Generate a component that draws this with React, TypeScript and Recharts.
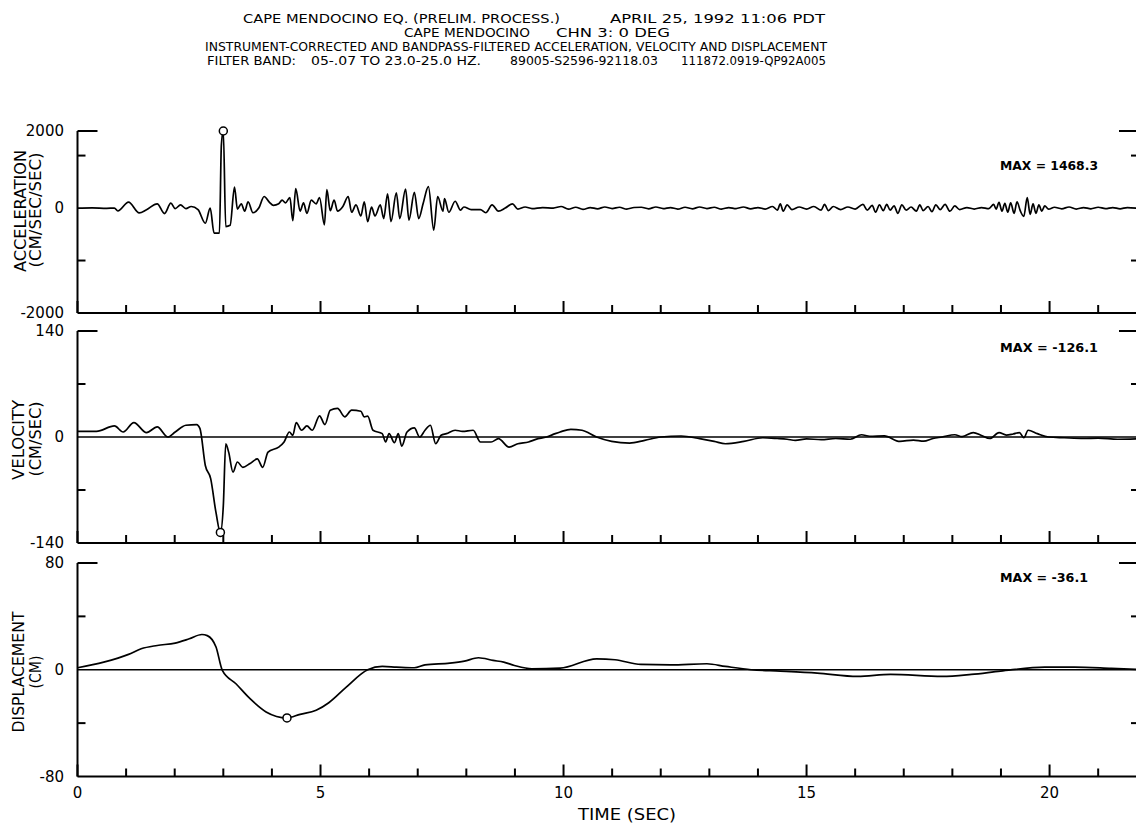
import React from 'react';
import { LineChart, Line, XAxis, YAxis, ReferenceLine, ReferenceDot } from 'recharts';

// time (sec), acceleration (cm/sec/sec)
const accelSamples: [number, number][] = [
  [0, 0], [0.3, 5], [0.6, -5], [0.76, 0], [0.83, -56], [1.05, 112], [1.27, -93], [1.42, -31],
  [1.64, 80], [1.79, -105], [1.92, 93], [2.01, -12], [2.12, 60], [2.23, -12], [2.34, 30], [2.48, -30],
  [2.63, -290], [2.73, 0], [2.81, -477], [2.92, -477], [2.96, 1200], [3.0, 1468.3], [3.05, -353],
  [3.14, -330], [3.23, 400], [3.29, -20], [3.37, 80], [3.44, -60], [3.51, 120], [3.61, -90], [3.73, 0],
  [3.84, 220], [3.95, 110], [4.03, 50], [4.14, 80], [4.21, 150], [4.28, 100], [4.37, 200], [4.43, -240],
  [4.49, 370], [4.58, -60], [4.65, 100], [4.72, -100], [4.81, 150], [4.91, 80], [4.98, 200], [5.08, -320],
  [5.13, 350], [5.2, -50], [5.28, 150], [5.35, -60], [5.46, 30], [5.57, 220], [5.64, -80], [5.73, 60],
  [5.83, -150], [5.9, 120], [5.97, -260], [6.05, 20], [6.12, -150], [6.23, 60], [6.3, -200], [6.38, 270],
  [6.45, -260], [6.56, 290], [6.63, -200], [6.75, 360], [6.82, -230], [6.93, 300], [7.02, -200], [7.11, 80],
  [7.22, 410], [7.33, -420], [7.41, 220], [7.52, -60], [7.55, 180], [7.64, -80], [7.77, 130], [7.88, -40],
  [7.95, 20], [8.1, -30], [8.29, -30], [8.4, -90], [8.53, 60], [8.66, -60], [8.8, 0], [8.95, 80],
  [9.06, -20], [9.21, 20], [9.35, -10], [9.57, 10], [9.79, 0], [9.95, 30], [10.1, -20], [10.25, 15],
  [10.4, -25], [10.55, 10], [10.7, -15], [10.85, 20], [11.0, -10], [11.15, 15], [11.3, -20], [11.45, 10],
  [11.6, 15], [11.75, -15], [11.9, 20], [12.05, -10], [12.2, 10], [12.35, -20], [12.5, 15], [12.65, -15],
  [12.8, 20], [12.95, -10], [13.1, 15], [13.25, -20], [13.4, 10], [13.55, -10], [13.7, 20], [13.85, -15],
  [14.0, 10], [14.15, -20], [14.3, 30], [14.4, -40], [14.46, 80], [14.52, -60], [14.6, 60], [14.7, -30],
  [14.85, 20], [15.0, -20], [15.15, 30], [15.3, -40], [15.37, 70], [15.45, -50], [15.55, 30], [15.7, -30],
  [15.85, 20], [16.0, -20], [16.16, 70], [16.25, -40], [16.35, 50], [16.42, -80], [16.5, 60], [16.58, -50],
  [16.65, 70], [16.72, -40], [16.8, 40], [16.88, -100], [16.96, 60], [17.05, -40], [17.15, 20], [17.26, -60],
  [17.33, 60], [17.4, -50], [17.5, 30], [17.58, -70], [17.66, 60], [17.75, -30], [17.85, 70], [17.95, -60],
  [18.05, 40], [18.15, -30], [18.3, 10], [18.45, -20], [18.6, 10], [18.75, -10], [18.85, 70], [18.9, -20],
  [18.96, 110], [19.02, -60], [19.08, 90], [19.14, -80], [19.2, 100], [19.27, -100], [19.33, 120], [19.4, -60],
  [19.47, -160], [19.54, 200], [19.6, -120], [19.66, 80], [19.72, -100], [19.78, 60], [19.84, -60], [19.9, 40],
  [19.98, -20], [20.1, 15], [20.25, -15], [20.4, 20], [20.55, -20], [20.7, 10], [20.85, -15], [21.0, 15],
  [21.15, -10], [21.3, 10], [21.45, -15], [21.6, 10], [21.8, -5],
];

// time (sec), velocity (cm/sec)
const velSamples: [number, number][] = [
  [0, 7.5], [0.39, 7.5], [0.76, 14.6], [0.94, 6.6], [1.16, 19], [1.42, 5.8], [1.64, 13.3], [1.86, 0],
  [2.01, 6.6], [2.23, 15.5], [2.45, 16.4], [2.52, 11], [2.63, -37.7], [2.74, -55], [2.85, -100], [2.94, -126.1],
  [3.0, -91], [3.05, -8.9], [3.11, -20], [3.2, -46.5], [3.29, -33], [3.4, -40], [3.55, -35], [3.7, -29],
  [3.81, -40], [3.92, -20], [4.14, -13.3], [4.25, -6.6], [4.36, 6.6], [4.43, 2.2], [4.5, 19], [4.61, 8.9],
  [4.72, 14.6], [4.83, 8.9], [4.98, 28], [5.09, 16.4], [5.2, 35.4], [5.35, 37.7], [5.5, 26.6], [5.64, 35.4],
  [5.83, 34], [5.9, 26.6], [5.97, 27.5], [6.08, 8.9], [6.27, 4.4], [6.34, -6.6], [6.41, 4.4], [6.52, -7.5],
  [6.6, 4.4], [6.67, -12], [6.78, 6.6], [6.93, 12], [7.04, 0], [7.15, 8.9], [7.26, 15.5], [7.37, -8.9],
  [7.48, 2.2], [7.59, 4.4], [7.77, 8.9], [7.92, 7.5], [8.14, 8.9], [8.29, -6.6], [8.51, -6.6], [8.66, -2.2],
  [8.88, -13.3], [9.06, -8.9], [9.28, -6.6], [9.43, -3.1], [9.65, 0], [9.83, 4.4], [9.93, 6.6], [10.15, 10.2],
  [10.38, 8.9], [10.68, 0], [10.99, -5.8], [11.36, -8], [11.67, -4.4], [12.0, 0], [12.42, 1.3], [12.8, -2.2],
  [13.1, -5.8], [13.33, -8.9], [13.71, -5.8], [14.1, -1], [14.4, -2], [14.6, -3], [14.77, -4.5], [15.0, -2.5],
  [15.3, -3.5], [15.6, -2], [15.9, -3], [16.13, 3], [16.3, 1], [16.6, 1.5], [16.92, -5.8], [17.2, -4],
  [17.41, -5.5], [17.6, -2], [17.79, 0], [18.05, 3], [18.2, 0.5], [18.43, 5.8], [18.6, 2], [18.77, -2],
  [18.96, 5.8], [19.11, 2.5], [19.25, 4], [19.38, 5.8], [19.47, -1], [19.56, 8.9], [19.75, 4.4], [19.98, 0],
  [20.3, -1], [20.7, -2], [21.0, -1.5], [21.4, -3], [21.8, -2.5],
];

// time (sec), displacement (cm)
const dispSamples: [number, number][] = [
  [0, 1.5], [0.54, 5.7], [1.05, 11.5], [1.31, 15.7], [1.64, 18.2], [2.01, 20], [2.3, 23.2], [2.56, 26.4],
  [2.67, 25.6], [2.85, 17], [2.98, -0.5], [3.26, -10.5], [3.55, -21.7], [3.88, -31.6], [4.31, -36.1],
  [4.58, -33.4], [4.91, -30.4], [5.17, -24.7], [5.53, -13], [5.97, 0], [6.27, 2.5], [6.56, 2], [6.93, 1.5],
  [7.15, 3.7], [7.66, 5], [7.96, 6.5], [8.25, 9], [8.55, 7], [8.77, 5.7], [8.99, 3.2], [9.35, 0.7],
  [9.93, 1.2], [10.68, 8.2], [11.06, 7.5], [11.59, 4], [12.2, 3.7], [12.95, 4.5], [13.33, 2.5], [13.86, 0],
  [14.46, -1], [15.22, -2.5], [16.05, -5], [16.73, -3.5], [17.79, -5], [18.39, -3.5], [18.99, -1],
  [19.9, 2], [20.51, 2], [21.27, 1], [21.8, 0.2],
];

const timeTicks = [0, 1, 2, 3, 4, 5, 6, 7, 8, 9, 10, 11, 12, 13, 14, 15, 16, 17, 18, 19, 20, 21];

const accelTicks = [-2000, -1000, 0, 1000, 1468.3];
const accelTickText = ['-2000', '', '0', '', '2000'];
const velTicks = [-140, -70, 0, 70, 140];
const velTickText = ['-140', '', '0', '', '140'];
const dispTicks = [-80, -40, 0, 40, 80];
const dispTickText = ['-80', '', '0', '', '80'];

const CHART_W = 1146;
const PLOT_LEFT = 77.5;
const MARGIN_R = 7;
const PLOT_RIGHT = CHART_W - MARGIN_R;
const T_MAX = 21.84;
const PAD_TOP = 10;
const NUM_FONT = "'DejaVu Sans', sans-serif";
const NARROW_FONT = "'DejaVu Sans Condensed', 'Liberation Sans Narrow', 'DejaVu Sans', sans-serif";

const peakOf = (s: [number, number][]) =>
  s.reduce((a, b) => (Math.abs(b[1]) > Math.abs(a[1]) ? b : a));

interface PanelProps {
  samples: [number, number][];
  top: number;
  plotH: number;
  ticks: number[];
  tickText: string[];
  zeroLine: boolean;
  timeLabels: boolean;
}

const Panel = ({ samples, top, plotH, ticks, tickText, zeroLine, timeLabels }: PanelProps) => {
  const data = samples.map(([t, v]) => ({ t, v }));
  const peak = peakOf(samples);
  const axisY = PAD_TOP + plotH;
  const xAxisH = timeLabels ? 44 : 20;

  const renderXTick = (props: any) => {
    const { x, payload } = props;
    const major = payload.value % 5 === 0;
    return (
      <g>
        <line x1={x} x2={x} y1={axisY} y2={axisY - (major ? 12 : 8)} stroke="#000" strokeWidth={2} />
        {timeLabels && major && (
          <text x={x} y={axisY + 21} textAnchor="middle" fontFamily={NUM_FONT} fontSize={15} fill="#000">
            {payload.value}
          </text>
        )}
      </g>
    );
  };

  const renderYTick = (props: any) => {
    const { y, index } = props;
    const label = tickText[index];
    const isTop = index === ticks.length - 1;
    const isHalf = label === '';
    const len = isTop ? 20 : 8;
    return (
      <g>
        {(isTop || isHalf) && (
          <>
            <line x1={PLOT_LEFT} x2={PLOT_LEFT + len} y1={y} y2={y} stroke="#000" strokeWidth={2} />
            <line x1={PLOT_RIGHT - len} x2={PLOT_RIGHT} y1={y} y2={y} stroke="#000" strokeWidth={2} />
          </>
        )}
        {label && (
          <text x={64} y={y} dy={5} textAnchor="end" fontFamily={NUM_FONT} fontSize={15} fill="#000">
            {label}
          </text>
        )}
      </g>
    );
  };

  return (
    <div style={{ position: 'absolute', left: 0, top: top - PAD_TOP }}>
      <LineChart
        width={CHART_W}
        height={PAD_TOP + plotH + xAxisH}
        data={data}
        margin={{ top: PAD_TOP, right: MARGIN_R, bottom: 0, left: 0 }}
      >
        <XAxis
          dataKey="t"
          type="number"
          domain={[0, T_MAX]}
          ticks={timeTicks}
          interval={0}
          tick={renderXTick}
          tickLine={false}
          tickSize={0}
          tickMargin={0}
          height={xAxisH}
          axisLine={{ stroke: '#000', strokeWidth: 2 }}
          allowDataOverflow
        />
        <YAxis
          type="number"
          domain={[ticks[0], ticks[ticks.length - 1]]}
          ticks={ticks}
          interval={0}
          tick={renderYTick}
          tickLine={false}
          tickSize={0}
          tickMargin={0}
          width={PLOT_LEFT}
          axisLine={{ stroke: '#000', strokeWidth: 2 }}
          allowDataOverflow
        />
        {zeroLine && <ReferenceLine y={0} stroke="#000" strokeWidth={1.5} />}
        <Line
          type="monotone"
          dataKey="v"
          stroke="#000"
          strokeWidth={1.7}
          dot={false}
          isAnimationActive={false}
        />
        <ReferenceDot
          x={peak[0]}
          y={peak[1]}
          r={4}
          fill="#fff"
          stroke="#000"
          strokeWidth={1.5}
          ifOverflow="visible"
        />
      </LineChart>
    </div>
  );
};

const maxText = (s: [number, number][]) => `MAX = ${peakOf(s)[1].toFixed(1)}`;

const App = () => {
  return (
    <div
      style={{
        position: 'absolute',
        left: 0,
        top: 0,
        width: 1136,
        height: 829,
        overflow: 'hidden',
        background: '#fff',
      }}
    >
      <Panel samples={accelSamples} top={131} plotH={182} ticks={accelTicks} tickText={accelTickText} zeroLine={false} timeLabels={false} />
      <Panel samples={velSamples} top={331} plotH={212} ticks={velTicks} tickText={velTickText} zeroLine timeLabels={false} />
      <Panel samples={dispSamples} top={563} plotH={213.5} ticks={dispTicks} tickText={dispTickText} zeroLine timeLabels />

      <svg width={1136} height={829} style={{ position: 'absolute', left: 0, top: 0, pointerEvents: 'none' }}>
        {/* four title lines, 14px apart */}
        <g fontFamily={NARROW_FONT} fontSize={12} fill="#000">
          <text x={243} y={23} textLength={317} lengthAdjust="spacingAndGlyphs">CAPE MENDOCINO EQ. (PRELIM. PROCESS.)</text>
          <text x={610} y={23} textLength={215} lengthAdjust="spacingAndGlyphs">APRIL 25, 1992 11:06 PDT</text>
          <text x={404} y={37} textLength={126} lengthAdjust="spacingAndGlyphs">CAPE MENDOCINO</text>
          <text x={556} y={37} textLength={114} lengthAdjust="spacingAndGlyphs">CHN 3: 0 DEG</text>
          <text x={205} y={51} textLength={622} lengthAdjust="spacingAndGlyphs">
            INSTRUMENT-CORRECTED AND BANDPASS-FILTERED ACCELERATION, VELOCITY AND DISPLACEMENT
          </text>
          <text x={207} y={65} textLength={89} lengthAdjust="spacingAndGlyphs">FILTER BAND:</text>
          <text x={311} y={65} textLength={170} lengthAdjust="spacingAndGlyphs">05-.07 TO 23.0-25.0 HZ.</text>
          <text x={510} y={65} textLength={148} lengthAdjust="spacingAndGlyphs">89005-S2596-92118.03</text>
          <text x={681} y={65} textLength={145} lengthAdjust="spacingAndGlyphs">111872.0919-QP92A005</text>
        </g>

        <g fontFamily={NARROW_FONT} fontSize={15} fill="#000" textAnchor="middle" dominantBaseline="central">
          <text transform="translate(21,211) rotate(-90)" textLength={122} lengthAdjust="spacingAndGlyphs">ACCELERATION</text>
          <text transform="translate(36,210) rotate(-90)" textLength={115} lengthAdjust="spacingAndGlyphs">(CM/SEC/SEC)</text>
          <text transform="translate(19,440) rotate(-90)" textLength={80} lengthAdjust="spacingAndGlyphs">VELOCITY</text>
          <text transform="translate(36,439) rotate(-90)" textLength={75} lengthAdjust="spacingAndGlyphs">(CM/SEC)</text>
          <text transform="translate(19,672) rotate(-90)" textLength={121} lengthAdjust="spacingAndGlyphs">DISPLACEMENT</text>
          <text transform="translate(36,672) rotate(-90)" textLength={33} lengthAdjust="spacingAndGlyphs">(CM)</text>
        </g>

        <g fontFamily={NARROW_FONT} fontSize={12} fontWeight="bold" fill="#000">
          <text x={1000} y={170} textLength={98} lengthAdjust="spacingAndGlyphs">{maxText(accelSamples)}</text>
          <text x={1000} y={352} textLength={98} lengthAdjust="spacingAndGlyphs">{maxText(velSamples)}</text>
          <text x={1000} y={582} textLength={88} lengthAdjust="spacingAndGlyphs">{maxText(dispSamples)}</text>
        </g>

        <text x={578} y={820} fontFamily={NARROW_FONT} fontSize={15} fill="#000" textLength={98} lengthAdjust="spacingAndGlyphs">
          TIME (SEC)
        </text>
      </svg>
    </div>
  );
};

export default App;
